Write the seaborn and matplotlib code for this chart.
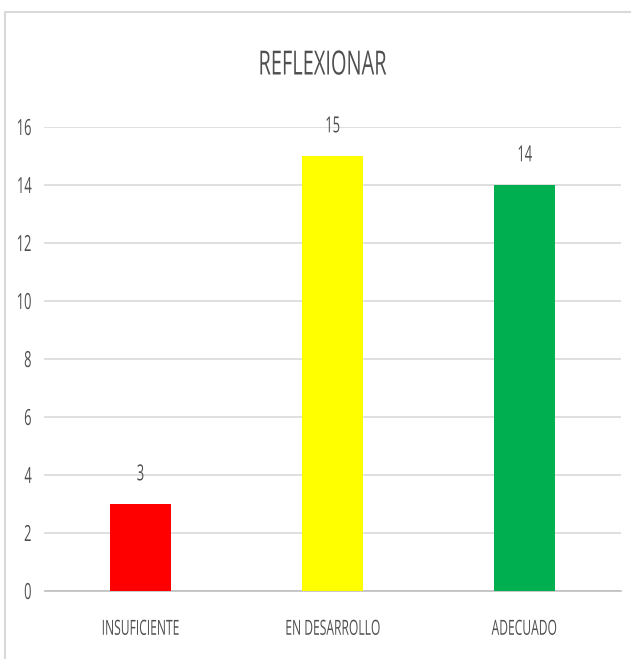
import matplotlib
matplotlib.use("Agg")
import matplotlib.pyplot as plt
import seaborn as sns
import pandas as pd
from matplotlib.patches import Rectangle
from matplotlib.patheffects import AbstractPathEffect
from matplotlib.transforms import Affine2D

categories = ["INSUFICIENTE", "EN DESARROLLO", "ADECUADO"]
values = [3, 15, 14]
colors = ["#FF0000", "#FFFF00", "#00B050"]
yticks = [0, 2, 4, 6, 8, 10, 12, 14, 16]
title = "REFLEXIONAR"


class Squeeze(AbstractPathEffect):
    """Compress text horizontally (narrow font look)."""
    def __init__(self, sx=0.58, anchor="center"):
        super().__init__()
        self.sx = sx
        self.anchor = anchor

    def draw_path(self, renderer, gc, tpath, affine, rgbFace=None):
        ext = tpath.get_extents(affine)
        if self.anchor == "right":
            cx = ext.x1
        elif self.anchor == "left":
            cx = ext.x0
        else:
            cx = (ext.x0 + ext.x1) / 2
        a = affine + Affine2D().translate(-cx, 0).scale(self.sx, 1).translate(cx, 0)
        renderer.draw_path(gc, tpath, a, rgbFace)


sns.set_theme(style="white")
plt.rcParams['font.family'] = ['Open Sans', 'DejaVu Sans']
txt = "#505050"
SX = 0.58

fig = plt.figure(figsize=(6.31, 6.59), dpi=100)
ax = fig.add_axes([44.5/631, 1-591/659, (620.5-44.5)/631, (591-127)/659])

df = pd.DataFrame({"cat": categories, "val": values})
sns.barplot(data=df, x="cat", y="val", hue="cat", palette=colors, legend=False,
            width=0.32, ax=ax, zorder=3, saturation=1, linewidth=0)

ax.set_ylim(0, 16)
ax.set_yticks(yticks)
ax.set_yticklabels([str(t) for t in yticks], fontsize=16, color=txt)
ax.tick_params(axis="x", labelsize=15, colors=txt, length=0, pad=20)
ax.tick_params(axis="y", length=0, pad=9)
for lab in ax.get_xticklabels():
    lab.set_color(txt)
    lab.set_path_effects([Squeeze(SX, "center")])
for lab in ax.get_yticklabels():
    lab.set_path_effects([Squeeze(SX, "right")])
ax.set_xlabel("")
ax.set_ylabel("")
ax.grid(axis="y", color="#d9d9d9", linewidth=1.2, zorder=0)
for s in ["top", "right", "left"]:
    ax.spines[s].set_visible(False)
ax.spines["bottom"].set_color("#bfbfbf")
ax.spines["bottom"].set_linewidth(1.2)

for p, v in zip(ax.patches, values):
    t = ax.annotate(str(v), (p.get_x() + p.get_width()/2, p.get_height()),
                    xytext=(0, 21), textcoords="offset points", ha="center", va="center",
                    fontsize=16, color=txt)
    t.set_path_effects([Squeeze(SX, "center")])

tt = fig.text(322/631, 1-66/659, title, ha="center", va="center", fontsize=24, color=txt)
tt.set_path_effects([Squeeze(0.6, "center")])

fig.patches.append(Rectangle((5/631, -0.05), 1.0, 1-12/659+0.05, transform=fig.transFigure,
                             fill=False, edgecolor="#d9d9d9", linewidth=1.5))

fig.savefig("out.png", dpi=100)
